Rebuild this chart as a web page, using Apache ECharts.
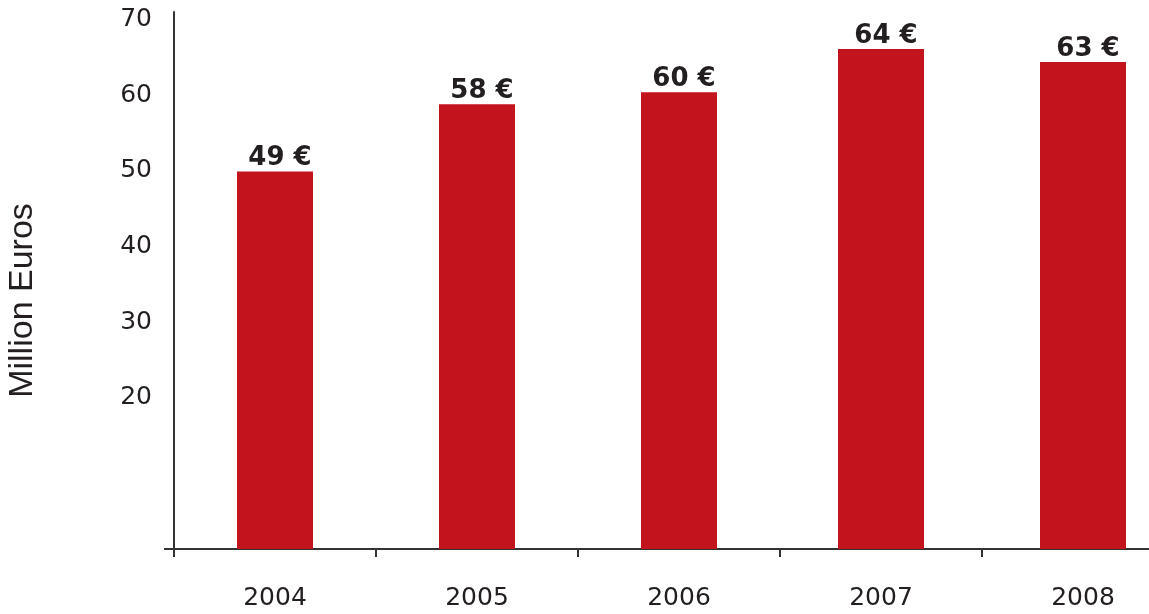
<!DOCTYPE html>
<html>
<head>
<meta charset="utf-8">
<script src="https://cdn.jsdelivr.net/npm/echarts@6/dist/echarts.min.js"></script>
<style>
html,body{margin:0;padding:0;background:#fff;}
#chart{width:1149px;height:614px;}
</style>
</head>
<body>
<div id="chart"></div>
<script>
const categories = ['2004', '2005', '2006', '2007', '2008'];
const barValues = [49.9, 58.8, 60.4, 66.1, 64.4];
const shownValues = [49, 58, 60, 64, 63];
const yTickLabels = [20, 30, 40, 50, 60, 70];
const narrowGroup = ['2004', '2005', '2006'];
const wideGroup = ['2007', '2008'];

const narrowData = categories.map((c, i) => narrowGroup.includes(c) ? barValues[i] : '-');
const wideData = categories.map((c, i) => wideGroup.includes(c) ? barValues[i] : '-');

const textColor = '#231f20';
const barColor = '#c3131c';

const labelOpt = {
  show: true,
  position: 'top',
  distance: 0,
  offset: [5, 0],
  fontFamily: 'DejaVu Sans',
  fontWeight: 'bold',
  fontSize: 26,
  color: textColor,
  formatter: p => shownValues[p.dataIndex] + ' €'
};

const chart = echarts.init(document.getElementById('chart'), null, {renderer: 'canvas'});
chart.setOption({
  animation: false,
  backgroundColor: '#fff',
  grid: {left: 174, top: 12, width: 1010, height: 537, containLabel: false, outerBoundsMode: 'none'},
  xAxis: [{
    type: 'category',
    data: categories,
    axisLine: {lineStyle: {color: '#333', width: 2}},
    axisTick: {show: true, length: 8, lineStyle: {color: '#333', width: 2}},
    axisLabel: {margin: 37, fontFamily: 'DejaVu Sans', fontSize: 25, color: textColor},
    splitLine: {show: false}
  }, {
    type: 'category',
    data: categories,
    show: false
  }],
  yAxis: {
    type: 'value',
    min: 0,
    max: 71,
    interval: 10,
    name: 'Million Euros',
    nameLocation: 'middle',
    nameGap: 134,
    nameTextStyle: {fontFamily: 'Liberation Sans', fontSize: 34, color: textColor, padding: [0, 40, 0, 0]},
    axisLine: {show: true, lineStyle: {color: '#333', width: 2}},
    axisTick: {show: true, customValues: [0], length: 10, lineStyle: {color: '#333', width: 2}},
    axisLabel: {
      margin: 22,
      fontFamily: 'DejaVu Sans',
      fontSize: 25,
      color: textColor,
      formatter: v => yTickLabels.includes(v) ? String(v) : ''
    },
    splitLine: {show: false}
  },
  series: [{
    type: 'bar',
    xAxisIndex: 0,
    data: narrowData,
    barWidth: 76,
    itemStyle: {color: barColor},
    label: labelOpt
  }, {
    type: 'bar',
    xAxisIndex: 1,
    data: wideData,
    barWidth: 86,
    itemStyle: {color: barColor},
    label: labelOpt
  }]
});
</script>
</body>
</html>
